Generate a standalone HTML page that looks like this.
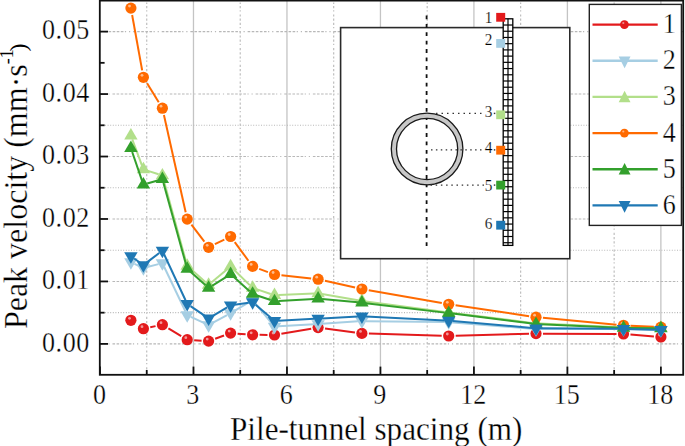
<!DOCTYPE html>
<html><head><meta charset="utf-8"><style>
html,body{margin:0;padding:0;background:#fff;}
body{width:685px;height:446px;position:relative;overflow:hidden;font-family:"Liberation Serif",serif;}
</style></head><body>
<svg width="685" height="446" viewBox="0 0 685 446" style="position:absolute;left:0;top:0"><line x1="193.48" y1="0.6" x2="193.48" y2="374.8" stroke="#c4c4c4" stroke-width="1.3"/><line x1="286.96" y1="0.6" x2="286.96" y2="374.8" stroke="#c4c4c4" stroke-width="1.3"/><line x1="380.44" y1="0.6" x2="380.44" y2="374.8" stroke="#c4c4c4" stroke-width="1.3"/><line x1="473.92" y1="0.6" x2="473.92" y2="374.8" stroke="#c4c4c4" stroke-width="1.3"/><line x1="567.4" y1="0.6" x2="567.4" y2="374.8" stroke="#c4c4c4" stroke-width="1.3"/><line x1="660.88" y1="0.6" x2="660.88" y2="374.8" stroke="#c4c4c4" stroke-width="1.3"/><line x1="146.74" y1="2.5" x2="146.74" y2="374.8" stroke="#b8b8b8" stroke-width="1.1" stroke-dasharray="2.2 2 2.2 2 2.2 2 1.2 3" stroke-dashoffset="4.9"/><line x1="240.22" y1="2.5" x2="240.22" y2="374.8" stroke="#b8b8b8" stroke-width="1.1" stroke-dasharray="2.2 2 2.2 2 2.2 2 1.2 3" stroke-dashoffset="4.9"/><line x1="333.7" y1="2.5" x2="333.7" y2="374.8" stroke="#b8b8b8" stroke-width="1.1" stroke-dasharray="2.2 2 2.2 2 2.2 2 1.2 3" stroke-dashoffset="4.9"/><line x1="427.18" y1="2.5" x2="427.18" y2="374.8" stroke="#b8b8b8" stroke-width="1.1" stroke-dasharray="2.2 2 2.2 2 2.2 2 1.2 3" stroke-dashoffset="4.9"/><line x1="520.66" y1="2.5" x2="520.66" y2="374.8" stroke="#b8b8b8" stroke-width="1.1" stroke-dasharray="2.2 2 2.2 2 2.2 2 1.2 3" stroke-dashoffset="4.9"/><line x1="614.14" y1="2.5" x2="614.14" y2="374.8" stroke="#b8b8b8" stroke-width="1.1" stroke-dasharray="2.2 2 2.2 2 2.2 2 1.2 3" stroke-dashoffset="4.9"/><line x1="99.8" y1="343.9" x2="683.2" y2="343.9" stroke="#b8b8b8" stroke-width="1.1" stroke-dasharray="2.6 1.49 2.6 1.49 2.6 1.49 2.6 1.49 2.6 1.49 1.2 2.89 1.2 2.89" stroke-dashoffset="15.96"/><line x1="99.8" y1="281.44" x2="683.2" y2="281.44" stroke="#b8b8b8" stroke-width="1.1" stroke-dasharray="2.6 1.49 2.6 1.49 2.6 1.49 2.6 1.49 2.6 1.49 1.2 2.89 1.2 2.89" stroke-dashoffset="15.96"/><line x1="99.8" y1="218.98" x2="683.2" y2="218.98" stroke="#b8b8b8" stroke-width="1.1" stroke-dasharray="2.6 1.49 2.6 1.49 2.6 1.49 2.6 1.49 2.6 1.49 1.2 2.89 1.2 2.89" stroke-dashoffset="15.96"/><line x1="99.8" y1="156.52" x2="683.2" y2="156.52" stroke="#b8b8b8" stroke-width="1.1" stroke-dasharray="2.6 1.49 2.6 1.49 2.6 1.49 2.6 1.49 2.6 1.49 1.2 2.89 1.2 2.89" stroke-dashoffset="15.96"/><line x1="99.8" y1="94.06" x2="683.2" y2="94.06" stroke="#b8b8b8" stroke-width="1.1" stroke-dasharray="2.6 1.49 2.6 1.49 2.6 1.49 2.6 1.49 2.6 1.49 1.2 2.89 1.2 2.89" stroke-dashoffset="15.96"/><line x1="99.8" y1="31.6" x2="683.2" y2="31.6" stroke="#b8b8b8" stroke-width="1.1" stroke-dasharray="2.6 1.49 2.6 1.49 2.6 1.49 2.6 1.49 2.6 1.49 1.2 2.89 1.2 2.89" stroke-dashoffset="23.96"/><line x1="99.8" y1="312.67" x2="683.2" y2="312.67" stroke="#b8b8b8" stroke-width="1.1" stroke-dasharray="1 1.6"/><line x1="99.8" y1="250.21" x2="683.2" y2="250.21" stroke="#b8b8b8" stroke-width="1.1" stroke-dasharray="1 1.6"/><line x1="99.8" y1="187.75" x2="683.2" y2="187.75" stroke="#b8b8b8" stroke-width="1.1" stroke-dasharray="1 1.6"/><line x1="99.8" y1="125.29" x2="683.2" y2="125.29" stroke="#b8b8b8" stroke-width="1.1" stroke-dasharray="1 1.6"/><rect x="340.6" y="27.6" width="229.2" height="231.1" fill="#fff" stroke="#2a2a2a" stroke-width="1.6"/><line x1="426.6" y1="15.5" x2="426.6" y2="248.5" stroke="#111" stroke-width="1.8" stroke-dasharray="3.8 4.6"/><circle cx="427.1" cy="149.0" r="33.2" fill="none" stroke="#c8c8c8" stroke-width="5.2"/><circle cx="427.1" cy="149.0" r="35.8" fill="none" stroke="#1a1a1a" stroke-width="1.3"/><circle cx="427.1" cy="149.0" r="30.6" fill="none" stroke="#1a1a1a" stroke-width="1.3"/><line x1="436" y1="113.4" x2="484" y2="113.4" stroke="#333" stroke-width="1.4" stroke-dasharray="1.5 4"/><line x1="431" y1="149.9" x2="484" y2="149.9" stroke="#333" stroke-width="1.4" stroke-dasharray="1.5 3.4"/><line x1="430.5" y1="185.1" x2="484" y2="185.1" stroke="#333" stroke-width="1.4" stroke-dasharray="1.5 3.7"/><rect x="493.8" y="112.7" width="1.5" height="1.4" fill="#333"/><rect x="493.8" y="149.20000000000002" width="1.5" height="1.4" fill="#333"/><rect x="493.8" y="184.4" width="1.5" height="1.4" fill="#333"/><rect x="503.2" y="18.8" width="9.6" height="226.6" fill="#fff" stroke="#000" stroke-width="1.3"/><line x1="508" y1="18.8" x2="508" y2="245.4" stroke="#000" stroke-width="1.2"/><line x1="503.2" y1="25.02" x2="512.8" y2="25.02" stroke="#000" stroke-width="1.2"/><line x1="503.2" y1="31.24" x2="512.8" y2="31.24" stroke="#000" stroke-width="1.2"/><line x1="503.2" y1="37.46" x2="512.8" y2="37.46" stroke="#000" stroke-width="1.2"/><line x1="503.2" y1="43.68" x2="512.8" y2="43.68" stroke="#000" stroke-width="1.2"/><line x1="503.2" y1="49.9" x2="512.8" y2="49.9" stroke="#000" stroke-width="1.2"/><line x1="503.2" y1="56.12" x2="512.8" y2="56.12" stroke="#000" stroke-width="1.2"/><line x1="503.2" y1="62.34" x2="512.8" y2="62.34" stroke="#000" stroke-width="1.2"/><line x1="503.2" y1="68.56" x2="512.8" y2="68.56" stroke="#000" stroke-width="1.2"/><line x1="503.2" y1="74.78" x2="512.8" y2="74.78" stroke="#000" stroke-width="1.2"/><line x1="503.2" y1="81" x2="512.8" y2="81" stroke="#000" stroke-width="1.2"/><line x1="503.2" y1="87.22" x2="512.8" y2="87.22" stroke="#000" stroke-width="1.2"/><line x1="503.2" y1="93.44" x2="512.8" y2="93.44" stroke="#000" stroke-width="1.2"/><line x1="503.2" y1="99.66" x2="512.8" y2="99.66" stroke="#000" stroke-width="1.2"/><line x1="503.2" y1="105.88" x2="512.8" y2="105.88" stroke="#000" stroke-width="1.2"/><line x1="503.2" y1="112.1" x2="512.8" y2="112.1" stroke="#000" stroke-width="1.2"/><line x1="503.2" y1="118.32" x2="512.8" y2="118.32" stroke="#000" stroke-width="1.2"/><line x1="503.2" y1="124.54" x2="512.8" y2="124.54" stroke="#000" stroke-width="1.2"/><line x1="503.2" y1="130.76" x2="512.8" y2="130.76" stroke="#000" stroke-width="1.2"/><line x1="503.2" y1="136.98" x2="512.8" y2="136.98" stroke="#000" stroke-width="1.2"/><line x1="503.2" y1="143.2" x2="512.8" y2="143.2" stroke="#000" stroke-width="1.2"/><line x1="503.2" y1="149.42" x2="512.8" y2="149.42" stroke="#000" stroke-width="1.2"/><line x1="503.2" y1="155.64" x2="512.8" y2="155.64" stroke="#000" stroke-width="1.2"/><line x1="503.2" y1="161.86" x2="512.8" y2="161.86" stroke="#000" stroke-width="1.2"/><line x1="503.2" y1="168.08" x2="512.8" y2="168.08" stroke="#000" stroke-width="1.2"/><line x1="503.2" y1="174.3" x2="512.8" y2="174.3" stroke="#000" stroke-width="1.2"/><line x1="503.2" y1="180.52" x2="512.8" y2="180.52" stroke="#000" stroke-width="1.2"/><line x1="503.2" y1="186.74" x2="512.8" y2="186.74" stroke="#000" stroke-width="1.2"/><line x1="503.2" y1="192.96" x2="512.8" y2="192.96" stroke="#000" stroke-width="1.2"/><line x1="503.2" y1="199.18" x2="512.8" y2="199.18" stroke="#000" stroke-width="1.2"/><line x1="503.2" y1="205.4" x2="512.8" y2="205.4" stroke="#000" stroke-width="1.2"/><line x1="503.2" y1="211.62" x2="512.8" y2="211.62" stroke="#000" stroke-width="1.2"/><line x1="503.2" y1="217.84" x2="512.8" y2="217.84" stroke="#000" stroke-width="1.2"/><line x1="503.2" y1="224.06" x2="512.8" y2="224.06" stroke="#000" stroke-width="1.2"/><line x1="503.2" y1="230.28" x2="512.8" y2="230.28" stroke="#000" stroke-width="1.2"/><line x1="503.2" y1="236.5" x2="512.8" y2="236.5" stroke="#000" stroke-width="1.2"/><line x1="503.2" y1="242.72" x2="512.8" y2="242.72" stroke="#000" stroke-width="1.2"/><rect x="496.2" y="12.9" width="9" height="8.8" fill="#e31a1c"/><rect x="496.2" y="39" width="9" height="8.8" fill="#a6cee3"/><rect x="496.2" y="110.4" width="9" height="8.8" fill="#b2df8a"/><rect x="496.2" y="145.8" width="9" height="8.8" fill="#ff6a00"/><rect x="496.2" y="180.7" width="9" height="8.8" fill="#33a02c"/><rect x="496.2" y="220.8" width="9" height="8.8" fill="#1f78b4"/><text transform="translate(492.4,23.3) scale(0.9,1)" text-anchor="end" font-family="Liberation Serif" font-size="17" fill="#000" stroke="#fff" stroke-width="0.2">1</text><text transform="translate(492.4,45.4) scale(0.9,1)" text-anchor="end" font-family="Liberation Serif" font-size="17" fill="#000" stroke="#fff" stroke-width="0.2">2</text><text transform="translate(492.4,117.4) scale(0.9,1)" text-anchor="end" font-family="Liberation Serif" font-size="17" fill="#000" stroke="#fff" stroke-width="0.2">3</text><text transform="translate(492.4,152.6) scale(0.9,1)" text-anchor="end" font-family="Liberation Serif" font-size="17" fill="#000" stroke="#fff" stroke-width="0.2">4</text><text transform="translate(492.4,191.0) scale(0.9,1)" text-anchor="end" font-family="Liberation Serif" font-size="17" fill="#000" stroke="#fff" stroke-width="0.2">5</text><text transform="translate(492.4,228.6) scale(0.9,1)" text-anchor="end" font-family="Liberation Serif" font-size="17" fill="#000" stroke="#fff" stroke-width="0.2">6</text><line x1="150.25" y1="327.26" x2="155.55" y2="326.14" stroke="#e31a1c" stroke-width="2.0" stroke-linecap="butt"/><line x1="168.39" y1="328.32" x2="181.21" y2="336.08" stroke="#e31a1c" stroke-width="2.0" stroke-linecap="butt"/><line x1="194.19" y1="340.16" x2="201.61" y2="340.64" stroke="#e31a1c" stroke-width="2.0" stroke-linecap="butt"/><line x1="215.18" y1="338.71" x2="224.02" y2="335.49" stroke="#e31a1c" stroke-width="2.0" stroke-linecap="butt"/><line x1="237.58" y1="333.64" x2="245.62" y2="334.26" stroke="#e31a1c" stroke-width="2.0" stroke-linecap="butt"/><line x1="259.6" y1="334.86" x2="267.5" y2="334.94" stroke="#e31a1c" stroke-width="2.0" stroke-linecap="butt"/><line x1="281.4" y1="333.83" x2="311.2" y2="328.77" stroke="#e31a1c" stroke-width="2.0" stroke-linecap="butt"/><line x1="325.04" y1="328.52" x2="354.96" y2="332.48" stroke="#e31a1c" stroke-width="2.0" stroke-linecap="butt"/><line x1="368.9" y1="333.61" x2="441.7" y2="335.79" stroke="#e31a1c" stroke-width="2.0" stroke-linecap="butt"/><line x1="455.7" y1="335.81" x2="529" y2="333.79" stroke="#e31a1c" stroke-width="2.0" stroke-linecap="butt"/><line x1="543" y1="333.63" x2="616.5" y2="333.97" stroke="#e31a1c" stroke-width="2.0" stroke-linecap="butt"/><line x1="630.48" y1="334.56" x2="653.92" y2="336.44" stroke="#e31a1c" stroke-width="2.0" stroke-linecap="butt"/><circle cx="130.9" cy="320.3" r="5.6" fill="#e31a1c"/><circle cx="129.5" cy="318.3" r="1.4" fill="#fff" fill-opacity="0.55"/><circle cx="143.4" cy="328.7" r="5.6" fill="#e31a1c"/><circle cx="142" cy="326.7" r="1.4" fill="#fff" fill-opacity="0.55"/><circle cx="162.4" cy="324.7" r="5.6" fill="#e31a1c"/><circle cx="161" cy="322.7" r="1.4" fill="#fff" fill-opacity="0.55"/><circle cx="187.2" cy="339.7" r="5.6" fill="#e31a1c"/><circle cx="185.8" cy="337.7" r="1.4" fill="#fff" fill-opacity="0.55"/><circle cx="208.6" cy="341.1" r="5.6" fill="#e31a1c"/><circle cx="207.2" cy="339.1" r="1.4" fill="#fff" fill-opacity="0.55"/><circle cx="230.6" cy="333.1" r="5.6" fill="#e31a1c"/><circle cx="229.2" cy="331.1" r="1.4" fill="#fff" fill-opacity="0.55"/><circle cx="252.6" cy="334.8" r="5.6" fill="#e31a1c"/><circle cx="251.2" cy="332.8" r="1.4" fill="#fff" fill-opacity="0.55"/><circle cx="274.5" cy="335" r="5.6" fill="#e31a1c"/><circle cx="273.1" cy="333" r="1.4" fill="#fff" fill-opacity="0.55"/><circle cx="318.1" cy="327.6" r="5.6" fill="#e31a1c"/><circle cx="316.7" cy="325.6" r="1.4" fill="#fff" fill-opacity="0.55"/><circle cx="361.9" cy="333.4" r="5.6" fill="#e31a1c"/><circle cx="360.5" cy="331.4" r="1.4" fill="#fff" fill-opacity="0.55"/><circle cx="448.7" cy="336" r="5.6" fill="#e31a1c"/><circle cx="447.3" cy="334" r="1.4" fill="#fff" fill-opacity="0.55"/><circle cx="536" cy="333.6" r="5.6" fill="#e31a1c"/><circle cx="534.6" cy="331.6" r="1.4" fill="#fff" fill-opacity="0.55"/><circle cx="623.5" cy="334" r="5.6" fill="#e31a1c"/><circle cx="622.1" cy="332" r="1.4" fill="#fff" fill-opacity="0.55"/><circle cx="660.9" cy="337" r="5.6" fill="#e31a1c"/><circle cx="659.5" cy="335" r="1.4" fill="#fff" fill-opacity="0.55"/><line x1="134.51" y1="263.83" x2="139.79" y2="266.37" stroke="#a6cee3" stroke-width="2.0" stroke-linecap="butt"/><line x1="147.27" y1="267.08" x2="158.53" y2="264.12" stroke="#a6cee3" stroke-width="2.0" stroke-linecap="butt"/><line x1="164.12" y1="266.71" x2="185.48" y2="311.49" stroke="#a6cee3" stroke-width="2.0" stroke-linecap="butt"/><line x1="190.82" y1="316.79" x2="204.98" y2="323.41" stroke="#a6cee3" stroke-width="2.0" stroke-linecap="butt"/><line x1="212.11" y1="323.18" x2="227.09" y2="315.02" stroke="#a6cee3" stroke-width="2.0" stroke-linecap="butt"/><line x1="234.04" y1="311.07" x2="249.16" y2="302.13" stroke="#a6cee3" stroke-width="2.0" stroke-linecap="butt"/><line x1="255.15" y1="303.18" x2="271.95" y2="323.52" stroke="#a6cee3" stroke-width="2.0" stroke-linecap="butt"/><line x1="278.49" y1="326.37" x2="314.11" y2="324.33" stroke="#a6cee3" stroke-width="2.0" stroke-linecap="butt"/><line x1="322.09" y1="323.83" x2="357.91" y2="321.37" stroke="#a6cee3" stroke-width="2.0" stroke-linecap="butt"/><line x1="365.9" y1="321.15" x2="444.7" y2="322.05" stroke="#a6cee3" stroke-width="2.0" stroke-linecap="butt"/><line x1="452.69" y1="322.42" x2="532.01" y2="328.78" stroke="#a6cee3" stroke-width="2.0" stroke-linecap="butt"/><line x1="540" y1="329.1" x2="619.5" y2="329.1" stroke="#a6cee3" stroke-width="2.0" stroke-linecap="butt"/><line x1="627.5" y1="329.21" x2="656.9" y2="329.99" stroke="#a6cee3" stroke-width="2.0" stroke-linecap="butt"/><polygon points="124.2,258.3 137.6,258.3 130.9,269.7" fill="#a6cee3"/><polygon points="136.7,264.3 150.1,264.3 143.4,275.7" fill="#a6cee3"/><polygon points="155.7,259.3 169.1,259.3 162.4,270.7" fill="#a6cee3"/><polygon points="180.5,311.3 193.9,311.3 187.2,322.7" fill="#a6cee3"/><polygon points="201.9,321.3 215.3,321.3 208.6,332.7" fill="#a6cee3"/><polygon points="223.9,309.3 237.3,309.3 230.6,320.7" fill="#a6cee3"/><polygon points="245.9,296.3 259.3,296.3 252.6,307.7" fill="#a6cee3"/><polygon points="267.8,322.8 281.2,322.8 274.5,334.2" fill="#a6cee3"/><polygon points="311.4,320.3 324.8,320.3 318.1,331.7" fill="#a6cee3"/><polygon points="355.2,317.3 368.6,317.3 361.9,328.7" fill="#a6cee3"/><polygon points="442,318.3 455.4,318.3 448.7,329.7" fill="#a6cee3"/><polygon points="529.3,325.3 542.7,325.3 536,336.7" fill="#a6cee3"/><polygon points="616.8,325.3 630.2,325.3 623.5,336.7" fill="#a6cee3"/><polygon points="654.2,326.3 667.6,326.3 660.9,337.7" fill="#a6cee3"/><line x1="132.29" y1="139.35" x2="142.01" y2="165.65" stroke="#b2df8a" stroke-width="2.0" stroke-linecap="butt"/><line x1="147.21" y1="170.62" x2="158.59" y2="174.28" stroke="#b2df8a" stroke-width="2.0" stroke-linecap="butt"/><line x1="163.46" y1="179.36" x2="186.14" y2="262.04" stroke="#b2df8a" stroke-width="2.0" stroke-linecap="butt"/><line x1="190.19" y1="268.56" x2="205.61" y2="282.24" stroke="#b2df8a" stroke-width="2.0" stroke-linecap="butt"/><line x1="211.66" y1="282.33" x2="227.54" y2="268.97" stroke="#b2df8a" stroke-width="2.0" stroke-linecap="butt"/><line x1="233.46" y1="269.2" x2="249.74" y2="285.1" stroke="#b2df8a" stroke-width="2.0" stroke-linecap="butt"/><line x1="256.39" y1="289.16" x2="270.71" y2="293.94" stroke="#b2df8a" stroke-width="2.0" stroke-linecap="butt"/><line x1="278.5" y1="295.04" x2="314.1" y2="293.56" stroke="#b2df8a" stroke-width="2.0" stroke-linecap="butt"/><line x1="322.04" y1="294.08" x2="357.96" y2="300.22" stroke="#b2df8a" stroke-width="2.0" stroke-linecap="butt"/><line x1="365.87" y1="301.43" x2="444.73" y2="311.87" stroke="#b2df8a" stroke-width="2.0" stroke-linecap="butt"/><line x1="452.67" y1="312.9" x2="532.03" y2="322.9" stroke="#b2df8a" stroke-width="2.0" stroke-linecap="butt"/><line x1="540" y1="323.58" x2="619.5" y2="327.22" stroke="#b2df8a" stroke-width="2.0" stroke-linecap="butt"/><line x1="627.5" y1="327.45" x2="656.9" y2="327.85" stroke="#b2df8a" stroke-width="2.0" stroke-linecap="butt"/><polygon points="124.2,139.4 137.6,139.4 130.9,128" fill="#b2df8a"/><polygon points="136.7,173.2 150.1,173.2 143.4,161.8" fill="#b2df8a"/><polygon points="155.7,179.3 169.1,179.3 162.4,167.9" fill="#b2df8a"/><polygon points="180.5,269.7 193.9,269.7 187.2,258.3" fill="#b2df8a"/><polygon points="201.9,288.7 215.3,288.7 208.6,277.3" fill="#b2df8a"/><polygon points="223.9,270.2 237.3,270.2 230.6,258.8" fill="#b2df8a"/><polygon points="245.9,291.7 259.3,291.7 252.6,280.3" fill="#b2df8a"/><polygon points="267.8,299 281.2,299 274.5,287.6" fill="#b2df8a"/><polygon points="311.4,297.2 324.8,297.2 318.1,285.8" fill="#b2df8a"/><polygon points="355.2,304.7 368.6,304.7 361.9,293.3" fill="#b2df8a"/><polygon points="442,316.2 455.4,316.2 448.7,304.8" fill="#b2df8a"/><polygon points="529.3,327.2 542.7,327.2 536,315.8" fill="#b2df8a"/><polygon points="616.8,331.2 630.2,331.2 623.5,319.8" fill="#b2df8a"/><polygon points="654.2,331.7 667.6,331.7 660.9,320.3" fill="#b2df8a"/><line x1="132.14" y1="14.99" x2="142.16" y2="70.41" stroke="#ff6a00" stroke-width="2.0" stroke-linecap="butt"/><line x1="147.07" y1="83.26" x2="158.73" y2="102.24" stroke="#ff6a00" stroke-width="2.0" stroke-linecap="butt"/><line x1="163.93" y1="115.03" x2="185.67" y2="212.27" stroke="#ff6a00" stroke-width="2.0" stroke-linecap="butt"/><line x1="191.43" y1="224.68" x2="204.37" y2="241.72" stroke="#ff6a00" stroke-width="2.0" stroke-linecap="butt"/><line x1="214.88" y1="244.22" x2="224.32" y2="239.58" stroke="#ff6a00" stroke-width="2.0" stroke-linecap="butt"/><line x1="234.75" y1="242.14" x2="248.45" y2="260.76" stroke="#ff6a00" stroke-width="2.0" stroke-linecap="butt"/><line x1="259.17" y1="268.83" x2="267.93" y2="272.07" stroke="#ff6a00" stroke-width="2.0" stroke-linecap="butt"/><line x1="281.46" y1="275.25" x2="311.14" y2="278.45" stroke="#ff6a00" stroke-width="2.0" stroke-linecap="butt"/><line x1="324.93" y1="280.73" x2="355.07" y2="287.47" stroke="#ff6a00" stroke-width="2.0" stroke-linecap="butt"/><line x1="368.79" y1="290.22" x2="441.81" y2="303.08" stroke="#ff6a00" stroke-width="2.0" stroke-linecap="butt"/><line x1="455.62" y1="305.32" x2="529.08" y2="316.18" stroke="#ff6a00" stroke-width="2.0" stroke-linecap="butt"/><line x1="542.97" y1="317.85" x2="616.53" y2="324.65" stroke="#ff6a00" stroke-width="2.0" stroke-linecap="butt"/><line x1="630.49" y1="325.66" x2="653.91" y2="326.84" stroke="#ff6a00" stroke-width="2.0" stroke-linecap="butt"/><circle cx="130.9" cy="8.1" r="5.6" fill="#ff6a00"/><circle cx="129.5" cy="6.1" r="1.4" fill="#fff" fill-opacity="0.55"/><circle cx="143.4" cy="77.3" r="5.6" fill="#ff6a00"/><circle cx="142" cy="75.3" r="1.4" fill="#fff" fill-opacity="0.55"/><circle cx="162.4" cy="108.2" r="5.6" fill="#ff6a00"/><circle cx="161" cy="106.2" r="1.4" fill="#fff" fill-opacity="0.55"/><circle cx="187.2" cy="219.1" r="5.6" fill="#ff6a00"/><circle cx="185.8" cy="217.1" r="1.4" fill="#fff" fill-opacity="0.55"/><circle cx="208.6" cy="247.3" r="5.6" fill="#ff6a00"/><circle cx="207.2" cy="245.3" r="1.4" fill="#fff" fill-opacity="0.55"/><circle cx="230.6" cy="236.5" r="5.6" fill="#ff6a00"/><circle cx="229.2" cy="234.5" r="1.4" fill="#fff" fill-opacity="0.55"/><circle cx="252.6" cy="266.4" r="5.6" fill="#ff6a00"/><circle cx="251.2" cy="264.4" r="1.4" fill="#fff" fill-opacity="0.55"/><circle cx="274.5" cy="274.5" r="5.6" fill="#ff6a00"/><circle cx="273.1" cy="272.5" r="1.4" fill="#fff" fill-opacity="0.55"/><circle cx="318.1" cy="279.2" r="5.6" fill="#ff6a00"/><circle cx="316.7" cy="277.2" r="1.4" fill="#fff" fill-opacity="0.55"/><circle cx="361.9" cy="289" r="5.6" fill="#ff6a00"/><circle cx="360.5" cy="287" r="1.4" fill="#fff" fill-opacity="0.55"/><circle cx="448.7" cy="304.3" r="5.6" fill="#ff6a00"/><circle cx="447.3" cy="302.3" r="1.4" fill="#fff" fill-opacity="0.55"/><circle cx="536" cy="317.2" r="5.6" fill="#ff6a00"/><circle cx="534.6" cy="315.2" r="1.4" fill="#fff" fill-opacity="0.55"/><circle cx="623.5" cy="325.3" r="5.6" fill="#ff6a00"/><circle cx="622.1" cy="323.3" r="1.4" fill="#fff" fill-opacity="0.55"/><circle cx="660.9" cy="327.2" r="5.6" fill="#ff6a00"/><circle cx="659.5" cy="325.2" r="1.4" fill="#fff" fill-opacity="0.55"/><line x1="132.2" y1="151.98" x2="142.1" y2="180.92" stroke="#33a02c" stroke-width="2.0" stroke-linecap="butt"/><line x1="147.24" y1="183.57" x2="158.56" y2="180.23" stroke="#33a02c" stroke-width="2.0" stroke-linecap="butt"/><line x1="163.46" y1="182.96" x2="186.14" y2="265.04" stroke="#33a02c" stroke-width="2.0" stroke-linecap="butt"/><line x1="190.19" y1="271.56" x2="205.61" y2="285.24" stroke="#33a02c" stroke-width="2.0" stroke-linecap="butt"/><line x1="212" y1="285.79" x2="227.2" y2="276.31" stroke="#33a02c" stroke-width="2.0" stroke-linecap="butt"/><line x1="233.58" y1="276.87" x2="249.62" y2="291.23" stroke="#33a02c" stroke-width="2.0" stroke-linecap="butt"/><line x1="256.39" y1="295.18" x2="270.71" y2="300.02" stroke="#33a02c" stroke-width="2.0" stroke-linecap="butt"/><line x1="278.49" y1="301.06" x2="314.11" y2="298.94" stroke="#33a02c" stroke-width="2.0" stroke-linecap="butt"/><line x1="322.08" y1="299.06" x2="357.92" y2="302.34" stroke="#33a02c" stroke-width="2.0" stroke-linecap="butt"/><line x1="365.87" y1="303.18" x2="444.73" y2="312.62" stroke="#33a02c" stroke-width="2.0" stroke-linecap="butt"/><line x1="452.67" y1="313.6" x2="532.03" y2="323.6" stroke="#33a02c" stroke-width="2.0" stroke-linecap="butt"/><line x1="540" y1="324.27" x2="619.5" y2="327.73" stroke="#33a02c" stroke-width="2.0" stroke-linecap="butt"/><line x1="627.5" y1="327.95" x2="656.9" y2="328.35" stroke="#33a02c" stroke-width="2.0" stroke-linecap="butt"/><polygon points="124.2,152 137.6,152 130.9,140.6" fill="#33a02c"/><polygon points="136.7,188.5 150.1,188.5 143.4,177.1" fill="#33a02c"/><polygon points="155.7,182.9 169.1,182.9 162.4,171.5" fill="#33a02c"/><polygon points="180.5,272.7 193.9,272.7 187.2,261.3" fill="#33a02c"/><polygon points="201.9,291.7 215.3,291.7 208.6,280.3" fill="#33a02c"/><polygon points="223.9,278 237.3,278 230.6,266.6" fill="#33a02c"/><polygon points="245.9,297.7 259.3,297.7 252.6,286.3" fill="#33a02c"/><polygon points="267.8,305.1 281.2,305.1 274.5,293.7" fill="#33a02c"/><polygon points="311.4,302.5 324.8,302.5 318.1,291.1" fill="#33a02c"/><polygon points="355.2,306.5 368.6,306.5 361.9,295.1" fill="#33a02c"/><polygon points="442,316.9 455.4,316.9 448.7,305.5" fill="#33a02c"/><polygon points="529.3,327.9 542.7,327.9 536,316.5" fill="#33a02c"/><polygon points="616.8,331.7 630.2,331.7 623.5,320.3" fill="#33a02c"/><polygon points="654.2,332.2 667.6,332.2 660.9,320.8" fill="#33a02c"/><line x1="134.15" y1="258.44" x2="140.15" y2="262.76" stroke="#1f78b4" stroke-width="2.0" stroke-linecap="butt"/><line x1="146.58" y1="262.67" x2="159.22" y2="253.03" stroke="#1f78b4" stroke-width="2.0" stroke-linecap="butt"/><line x1="164.09" y1="254.23" x2="185.51" y2="300.27" stroke="#1f78b4" stroke-width="2.0" stroke-linecap="butt"/><line x1="190.51" y1="306.14" x2="205.29" y2="316.16" stroke="#1f78b4" stroke-width="2.0" stroke-linecap="butt"/><line x1="212.04" y1="316.35" x2="227.16" y2="307.35" stroke="#1f78b4" stroke-width="2.0" stroke-linecap="butt"/><line x1="234.56" y1="304.72" x2="248.64" y2="302.68" stroke="#1f78b4" stroke-width="2.0" stroke-linecap="butt"/><line x1="255.64" y1="304.71" x2="271.46" y2="318.29" stroke="#1f78b4" stroke-width="2.0" stroke-linecap="butt"/><line x1="278.49" y1="320.69" x2="314.11" y2="318.81" stroke="#1f78b4" stroke-width="2.0" stroke-linecap="butt"/><line x1="322.09" y1="318.39" x2="357.91" y2="316.51" stroke="#1f78b4" stroke-width="2.0" stroke-linecap="butt"/><line x1="365.9" y1="316.5" x2="444.7" y2="320.4" stroke="#1f78b4" stroke-width="2.0" stroke-linecap="butt"/><line x1="452.68" y1="320.95" x2="532.02" y2="327.95" stroke="#1f78b4" stroke-width="2.0" stroke-linecap="butt"/><line x1="540" y1="328.33" x2="619.5" y2="328.87" stroke="#1f78b4" stroke-width="2.0" stroke-linecap="butt"/><line x1="627.5" y1="329.01" x2="656.9" y2="329.79" stroke="#1f78b4" stroke-width="2.0" stroke-linecap="butt"/><polygon points="124.2,252.3 137.6,252.3 130.9,263.7" fill="#1f78b4"/><polygon points="136.7,261.3 150.1,261.3 143.4,272.7" fill="#1f78b4"/><polygon points="155.7,246.8 169.1,246.8 162.4,258.2" fill="#1f78b4"/><polygon points="180.5,300.1 193.9,300.1 187.2,311.5" fill="#1f78b4"/><polygon points="201.9,314.6 215.3,314.6 208.6,326" fill="#1f78b4"/><polygon points="223.9,301.5 237.3,301.5 230.6,312.9" fill="#1f78b4"/><polygon points="245.9,298.3 259.3,298.3 252.6,309.7" fill="#1f78b4"/><polygon points="267.8,317.1 281.2,317.1 274.5,328.5" fill="#1f78b4"/><polygon points="311.4,314.8 324.8,314.8 318.1,326.2" fill="#1f78b4"/><polygon points="355.2,312.5 368.6,312.5 361.9,323.9" fill="#1f78b4"/><polygon points="442,316.8 455.4,316.8 448.7,328.2" fill="#1f78b4"/><polygon points="529.3,324.5 542.7,324.5 536,335.9" fill="#1f78b4"/><polygon points="616.8,325.1 630.2,325.1 623.5,336.5" fill="#1f78b4"/><polygon points="654.2,326.1 667.6,326.1 660.9,337.5" fill="#1f78b4"/><rect x="99.8" y="0.6" width="583.4" height="374.2" fill="none" stroke="#111" stroke-width="1.8"/><line x1="99.8" y1="343.9" x2="108.0" y2="343.9" stroke="#111" stroke-width="1.8"/><line x1="99.8" y1="281.44" x2="108.0" y2="281.44" stroke="#111" stroke-width="1.8"/><line x1="99.8" y1="218.98" x2="108.0" y2="218.98" stroke="#111" stroke-width="1.8"/><line x1="99.8" y1="156.52" x2="108.0" y2="156.52" stroke="#111" stroke-width="1.8"/><line x1="99.8" y1="94.06" x2="108.0" y2="94.06" stroke="#111" stroke-width="1.8"/><line x1="99.8" y1="31.6" x2="108.0" y2="31.6" stroke="#111" stroke-width="1.8"/><line x1="99.8" y1="312.67" x2="104.6" y2="312.67" stroke="#111" stroke-width="1.8"/><line x1="99.8" y1="250.21" x2="104.6" y2="250.21" stroke="#111" stroke-width="1.8"/><line x1="99.8" y1="187.75" x2="104.6" y2="187.75" stroke="#111" stroke-width="1.8"/><line x1="99.8" y1="125.29" x2="104.6" y2="125.29" stroke="#111" stroke-width="1.8"/><line x1="99.8" y1="62.83" x2="104.6" y2="62.83" stroke="#111" stroke-width="1.8"/><line x1="100" y1="374.8" x2="100" y2="366.6" stroke="#111" stroke-width="1.8"/><line x1="193.48" y1="374.8" x2="193.48" y2="366.6" stroke="#111" stroke-width="1.8"/><line x1="286.96" y1="374.8" x2="286.96" y2="366.6" stroke="#111" stroke-width="1.8"/><line x1="380.44" y1="374.8" x2="380.44" y2="366.6" stroke="#111" stroke-width="1.8"/><line x1="473.92" y1="374.8" x2="473.92" y2="366.6" stroke="#111" stroke-width="1.8"/><line x1="567.4" y1="374.8" x2="567.4" y2="366.6" stroke="#111" stroke-width="1.8"/><line x1="660.88" y1="374.8" x2="660.88" y2="366.6" stroke="#111" stroke-width="1.8"/><line x1="146.74" y1="374.8" x2="146.74" y2="370.0" stroke="#111" stroke-width="1.8"/><line x1="240.22" y1="374.8" x2="240.22" y2="370.0" stroke="#111" stroke-width="1.8"/><line x1="333.7" y1="374.8" x2="333.7" y2="370.0" stroke="#111" stroke-width="1.8"/><line x1="427.18" y1="374.8" x2="427.18" y2="370.0" stroke="#111" stroke-width="1.8"/><line x1="520.66" y1="374.8" x2="520.66" y2="370.0" stroke="#111" stroke-width="1.8"/><line x1="614.14" y1="374.8" x2="614.14" y2="370.0" stroke="#111" stroke-width="1.8"/><rect x="589.3" y="4.4" width="92.1" height="221" fill="#fff" stroke="#222" stroke-width="1.4"/><line x1="592.5" y1="24.6" x2="657.7" y2="24.6" stroke="#e31a1c" stroke-width="2.3"/><circle cx="624.4" cy="24.6" r="4.4" fill="#e31a1c"/><circle cx="623.3" cy="23" r="1.1" fill="#fff" fill-opacity="0.5"/><text transform="translate(662.8,33.1) scale(0.86,1)" font-family="Liberation Serif" font-size="30.3" fill="#000" stroke="#fff" stroke-width="0.35">1</text><line x1="592.5" y1="60.76" x2="657.7" y2="60.76" stroke="#a6cee3" stroke-width="2.3"/><polygon points="618.7,56.46 630.5,56.46 624.6,68.16" fill="#a6cee3"/><text transform="translate(662.8,69.26) scale(0.86,1)" font-family="Liberation Serif" font-size="30.3" fill="#000" stroke="#fff" stroke-width="0.35">2</text><line x1="592.5" y1="96.92" x2="657.7" y2="96.92" stroke="#b2df8a" stroke-width="2.3"/><polygon points="618.7,102.22 630.5,102.22 624.6,90.72" fill="#b2df8a"/><text transform="translate(662.8,105.42) scale(0.86,1)" font-family="Liberation Serif" font-size="30.3" fill="#000" stroke="#fff" stroke-width="0.35">3</text><line x1="592.5" y1="133.08" x2="657.7" y2="133.08" stroke="#ff6a00" stroke-width="2.3"/><circle cx="624.4" cy="133.08" r="4.4" fill="#ff6a00"/><circle cx="623.3" cy="131.48" r="1.1" fill="#fff" fill-opacity="0.5"/><text transform="translate(662.8,141.58) scale(0.86,1)" font-family="Liberation Serif" font-size="30.3" fill="#000" stroke="#fff" stroke-width="0.35">4</text><line x1="592.5" y1="169.24" x2="657.7" y2="169.24" stroke="#33a02c" stroke-width="2.3"/><polygon points="618.7,174.54 630.5,174.54 624.6,163.04" fill="#33a02c"/><text transform="translate(662.8,177.74) scale(0.86,1)" font-family="Liberation Serif" font-size="30.3" fill="#000" stroke="#fff" stroke-width="0.35">5</text><line x1="592.5" y1="205.4" x2="657.7" y2="205.4" stroke="#1f78b4" stroke-width="2.3"/><polygon points="618.7,201.1 630.5,201.1 624.6,212.8" fill="#1f78b4"/><text transform="translate(662.8,213.9) scale(0.86,1)" font-family="Liberation Serif" font-size="30.3" fill="#000" stroke="#fff" stroke-width="0.35">6</text><text transform="translate(90.0,351.6) scale(0.86,1)" text-anchor="end" font-family="Liberation Serif" font-size="30.3" letter-spacing="0.7" fill="#000" stroke="#fff" stroke-width="0.35">0.00</text><text transform="translate(90.0,289.14) scale(0.86,1)" text-anchor="end" font-family="Liberation Serif" font-size="30.3" letter-spacing="0.7" fill="#000" stroke="#fff" stroke-width="0.35">0.01</text><text transform="translate(90.0,226.68) scale(0.86,1)" text-anchor="end" font-family="Liberation Serif" font-size="30.3" letter-spacing="0.7" fill="#000" stroke="#fff" stroke-width="0.35">0.02</text><text transform="translate(90.0,164.22) scale(0.86,1)" text-anchor="end" font-family="Liberation Serif" font-size="30.3" letter-spacing="0.7" fill="#000" stroke="#fff" stroke-width="0.35">0.03</text><text transform="translate(90.0,101.76) scale(0.86,1)" text-anchor="end" font-family="Liberation Serif" font-size="30.3" letter-spacing="0.7" fill="#000" stroke="#fff" stroke-width="0.35">0.04</text><text transform="translate(90.0,39.3) scale(0.86,1)" text-anchor="end" font-family="Liberation Serif" font-size="30.3" letter-spacing="0.7" fill="#000" stroke="#fff" stroke-width="0.35">0.05</text><text transform="translate(99.4,404.3) scale(0.86,1)" text-anchor="middle" font-family="Liberation Serif" font-size="30.3" fill="#000" stroke="#fff" stroke-width="0.35">0</text><text transform="translate(192.88,404.3) scale(0.86,1)" text-anchor="middle" font-family="Liberation Serif" font-size="30.3" fill="#000" stroke="#fff" stroke-width="0.35">3</text><text transform="translate(286.36,404.3) scale(0.86,1)" text-anchor="middle" font-family="Liberation Serif" font-size="30.3" fill="#000" stroke="#fff" stroke-width="0.35">6</text><text transform="translate(379.84,404.3) scale(0.86,1)" text-anchor="middle" font-family="Liberation Serif" font-size="30.3" fill="#000" stroke="#fff" stroke-width="0.35">9</text><text transform="translate(473.32,404.3) scale(0.86,1)" text-anchor="middle" font-family="Liberation Serif" font-size="30.3" fill="#000" stroke="#fff" stroke-width="0.35">12</text><text transform="translate(566.8,404.3) scale(0.86,1)" text-anchor="middle" font-family="Liberation Serif" font-size="30.3" fill="#000" stroke="#fff" stroke-width="0.35">15</text><text transform="translate(660.28,404.3) scale(0.86,1)" text-anchor="middle" font-family="Liberation Serif" font-size="30.3" fill="#000" stroke="#fff" stroke-width="0.35">18</text><text transform="translate(376.2,439.7) scale(0.903,1)" text-anchor="middle" font-family="Liberation Serif" font-size="34.5" fill="#000" stroke="#fff" stroke-width="0.3">Pile-tunnel spacing (m)</text><text transform="translate(26.7,329.1) rotate(-90) scale(0.928,1)" font-family="Liberation Serif" font-size="34.5" fill="#000" stroke="#fff" stroke-width="0.3">Peak velocity (mm&#183;s</text><text transform="translate(12.9,64.3) rotate(-90)" font-family="Liberation Serif" font-size="18" fill="#000">-1</text><text transform="translate(25.8,51.4) rotate(-90)" font-family="Liberation Serif" font-size="24" fill="#000">)</text></svg>
</body></html>
